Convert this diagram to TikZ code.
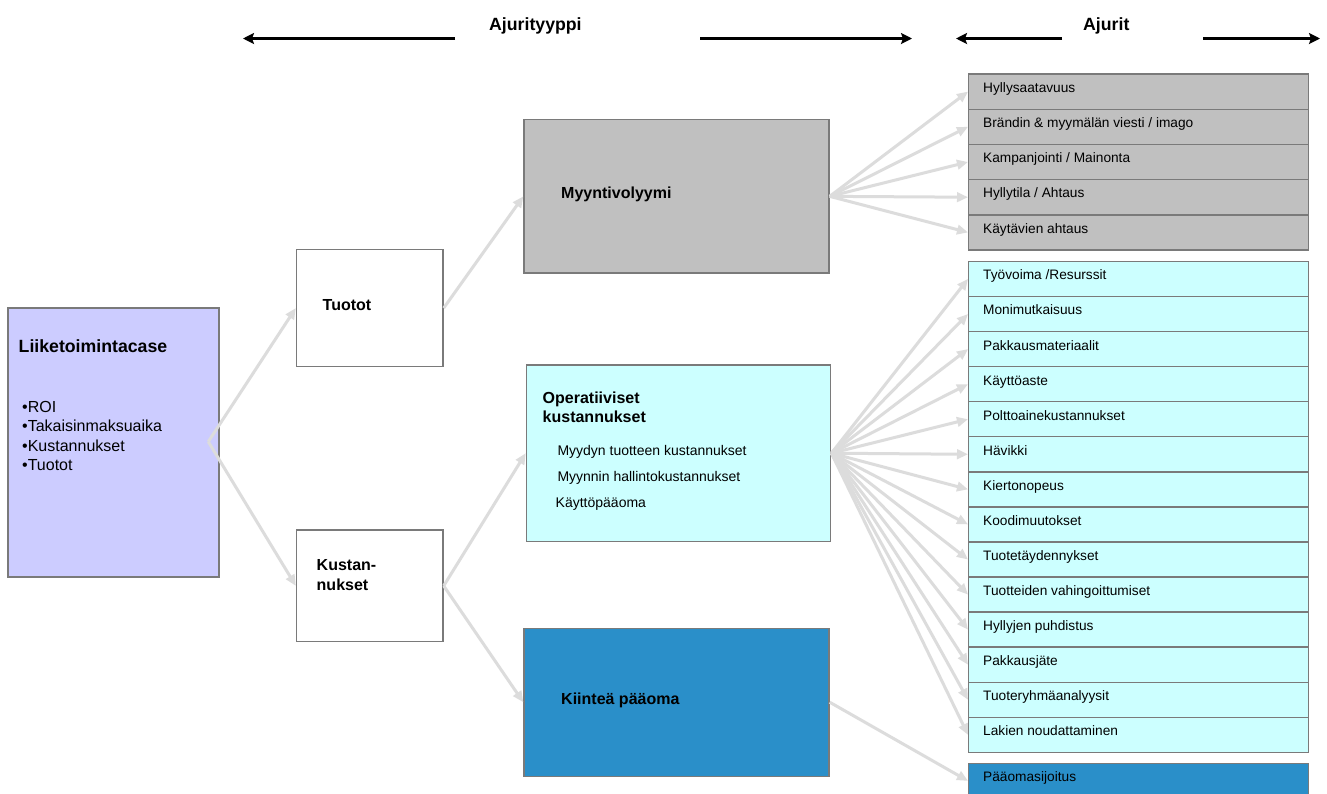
\documentclass[tikz,border=0pt]{standalone}
\usepackage{fontspec}
\setmainfont{Liberation Sans}
\usetikzlibrary{arrows.meta}
\definecolor{lav}{HTML}{CCCCFF}
\definecolor{boxgray}{HTML}{C0C0C0}
\definecolor{cyanbox}{HTML}{CCFFFF}
\definecolor{bluebox}{HTML}{2A8FC9}
\definecolor{bordergray}{HTML}{7A7A7A}
\definecolor{conngray}{HTML}{DCDCDC}
\begin{document}
\begin{tikzpicture}[x=1pt,y=-1pt,
  box/.style={draw=bordergray,line width=1.4pt,inner sep=0pt,anchor=north west},
  txt/.style={anchor=base west,inner sep=0pt},
  rtext/.style={txt,font=\fontsize{13.7}{16}\selectfont},
  subtext/.style={txt,font=\fontsize{14}{17}\selectfont},
  title/.style={txt,font=\fontsize{16}{19.3}\selectfont\bfseries,align=left},
  bigtitle/.style={txt,font=\fontsize{17.7}{21}\selectfont\bfseries},
  conn/.style={draw=conngray,line width=3pt,-{Triangle[length=11pt,width=9.5pt]}},
  hdr/.style={draw=black,line width=3.3pt,-{Stealth[length=11pt,width=11pt,inset=2pt]}}
]
\clip (0,0) rectangle (1327,793);
\fill[white] (0,0) rectangle (1327,793);

% header
\node[bigtitle] (h1) at (489,30) {Ajurityyppi};
\node[bigtitle] (h2) at (1083,30) {Ajurit};
\coordinate (a1s) at (455,38.5); \coordinate (a1e) at (243,38.5);
\coordinate (a2s) at (700,38.5); \coordinate (a2e) at (912,38.5);
\coordinate (a3s) at (1062,38.5); \coordinate (a3e) at (956,38.5);
\coordinate (a4s) at (1203,38.5); \coordinate (a4e) at (1320,38.5);
\draw[hdr] (a1s) -- (a1e);
\draw[hdr] (a2s) -- (a2e);
\draw[hdr] (a3s) -- (a3e);
\draw[hdr] (a4s) -- (a4e);

% left box
\node[box,fill=lav,minimum width=211pt,minimum height=269pt] (liik) at (7.3,307.3) {};
\node[bigtitle] (liikt) at (18.5,352) {Liiketoimintacase};
\node[txt,font=\fontsize{16}{19}\selectfont] (b1) at (22,412.3) {•ROI};
\node[txt,font=\fontsize{16}{19}\selectfont] (b2) at (22,431.8) {•Takaisinmaksuaika};
\node[txt,font=\fontsize{16}{19}\selectfont] (b3) at (22,451) {•Kustannukset};
\node[txt,font=\fontsize{16}{19}\selectfont] (b4) at (22,470.3) {•Tuotot};
\coordinate (lstart) at (208.3,441.7);

% second column
\node[box,fill=white,minimum width=146.5pt,minimum height=116.7pt] (tuo) at (295.8,249) {};
\node[title] (tuot) at (322.5,310) {Tuotot};
\node[box,fill=white,minimum width=146.5pt,minimum height=111.7pt] (kus) at (295.8,529.3) {};
\node[title] (kust1) at (316.5,570.7) {Kustan-};
\node[title] (kust2) at (316.5,590) {nukset};

% third column
\node[box,fill=boxgray,minimum width=305pt,minimum height=153.3pt] (myy) at (523.3,119) {};
\node[title] (myyt) at (561,198.3) {Myyntivolyymi};
\node[box,fill=cyanbox,minimum width=304.3pt,minimum height=176.4pt] (ope) at (525.7,364.3) {};
\node[title] (opet1) at (542.5,403.3) {Operatiiviset};
\node[title] (opet2) at (542.5,422.6) {kustannukset};
\node[subtext] (s1) at (557.3,455) {Myydyn tuotteen kustannukset};
\node[subtext] (s2) at (557.3,481.7) {Myynnin hallintokustannukset};
\node[subtext] (s3) at (555.5,507.7) {Käyttöpääoma};
\node[box,fill=bluebox,minimum width=305pt,minimum height=148pt] (kii) at (523.3,627.5) {};
\node[title] (kiit) at (561,704) {Kiinteä pääoma};

% right column: gray
\foreach \t [count=\i] in {Hyllysaatavuus,{Brändin \& myymälän viesti / imago},{Kampanjointi / Mainonta},{Hyllytila / Ahtaus},{Käytävien ahtaus}}{
  \node[box,fill=boxgray,minimum width=340pt,minimum height=35.2pt] (g\i) at (968,{73.3+(\i-1)*35.2}) {};
  \node[rtext] (gt\i) at (983,{73.3+(\i-1)*35.2+19}) {\t};
}
% right column: cyan
\foreach \t [count=\i] in {{Työvoima /Resurssit},Monimutkaisuus,Pakkausmateriaalit,Käyttöaste,Polttoainekustannukset,Hävikki,Kiertonopeus,Koodimuutokset,Tuotetäydennykset,{Tuotteiden vahingoittumiset},{Hyllyjen puhdistus},Pakkausjäte,Tuoteryhmäanalyysit,{Lakien noudattaminen}}{
  \node[box,fill=cyanbox,minimum width=340pt,minimum height=35.07pt] (c\i) at (968,{260.7+(\i-1)*35.07}) {};
  \node[rtext] (ct\i) at (983,{260.7+(\i-1)*35.07+19.2}) {\t};
}
% right column: blue
\node[box,fill=bluebox,minimum width=340pt,minimum height=35pt] (pao) at (968,762.7) {};
\node[rtext] (paot) at (983,781.7) {Pääomasijoitus};

% connectors
\draw[conn] (lstart) -- (tuo.west);
\draw[conn] (lstart) -- (kus.west);
\draw[conn] (tuo.east) -- (myy.west);
\draw[conn] (kus.east) -- (ope.west);
\draw[conn] (kus.east) -- (kii.west);
\foreach \i in {1,...,5} \draw[conn] (myy.east) -- (g\i.west);
\foreach \i in {1,...,14} \draw[conn] (ope.east) -- (c\i.west);
\draw[conn] (kii.east) -- (pao.west);
\end{tikzpicture}
\end{document}
